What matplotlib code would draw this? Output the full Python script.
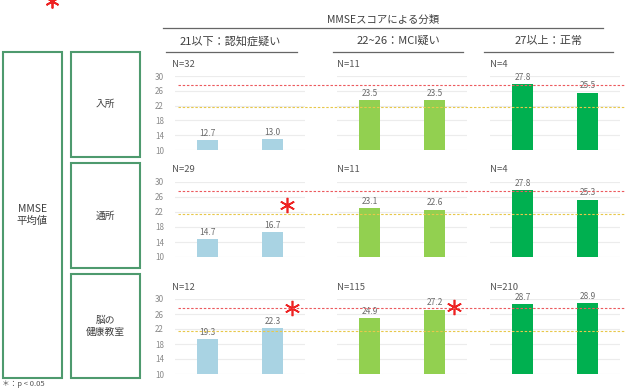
import matplotlib
matplotlib.use("Agg")
import matplotlib.pyplot as plt
from matplotlib.patches import Rectangle
from matplotlib.lines import Line2D

plt.rcParams['font.family'] = ['Noto Sans CJK JP', 'DejaVu Sans']

# ---- data ----
header = "MMSEスコアによる分類"
groups = ["21以下：認知症疑い", "22~26：MCI疑い", "27以上：正常"]
rows = ["入所", "通所", "脳の\n健康教室"]
side_label = "MMSE\n平均値"
n_labels = [["N=32", "N=11", "N=4"],
            ["N=29", "N=11", "N=4"],
            ["N=12", "N=115", "N=210"]]
# values[row][group] = [before, after]
values = [
    [[12.7, 13.0], [23.5, 23.5], [27.8, 25.5]],
    [[14.7, 16.7], [23.1, 22.6], [27.8, 25.3]],
    [[19.3, 22.3], [24.9, 27.2], [28.7, 28.9]],
]
yticks = [10, 14, 18, 22, 26, 30]
ref_red = 27.5
ref_yellow = 21.5
# significance marks: (row, group, x, y)
sig_marks = [(1, 0, 1.22, 23.8), (2, 0, 1.3, 27.6), (2, 1, 1.3, 27.8)]
footnote = "＊：p < 0.05"

colors = ["#a9d3e3", "#92d050", "#00b050"]

W, H = 627, 389
fig = plt.figure(figsize=(W / 100, H / 100), dpi=100)

def fx(px):
    return px / W

def fy(py):
    return 1 - py / H

row_top = [76, 182, 299]
row_bot = [150, 257, 374]
panel_x = [(175, 305), (337, 467), (490, 620)]

for r in range(3):
    for g in range(3):
        x0, x1 = panel_x[g]
        ax = fig.add_axes([fx(x0), fy(row_bot[r]), fx(x1 - x0), (row_bot[r] - row_top[r]) / H])
        vals = values[r][g]
        ax.bar([0, 1], [v - 10 for v in vals], bottom=10, width=0.31, color=colors[g], zorder=2)
        for i, v in enumerate(vals):
            ax.text(i, v + 0.6, f"{v:.1f}", ha='center', va='bottom', fontsize=6, color='#6a6a6a', zorder=4)
        ax.set_xlim(-0.5, 1.5)
        ax.set_ylim(10, 30)
        ax.set_yticks(yticks)
        ax.grid(axis='y', color='#ececec', linewidth=0.8, zorder=0)
        ax.set_xticks([])
        for s in ax.spines.values():
            s.set_visible(False)
        ax.tick_params(axis='y', length=0, labelsize=5.8, labelcolor='#8a8a8a', pad=8)
        if g != 0:
            ax.set_yticklabels([])
        ax.patch.set_alpha(0)
        ax.text(0.0 if g else -0.02, 1.1, n_labels[r][g], transform=ax.transAxes,
                fontsize=6.8, color='#555555', ha='left', va='bottom')
        for (rr, gg, xx, yy) in sig_marks:
            if rr == r and gg == g:
                ax.plot([xx], [yy], marker=(6, 2, 0), markersize=11, color='#ee2222',
                        markeredgewidth=1.2, clip_on=False, zorder=5)
    # reference lines across the row
    ov = fig.add_axes([fx(178), fy(row_bot[r]), fx(625 - 178), (row_bot[r] - row_top[r]) / H])
    ov.set_ylim(10, 30)
    ov.set_xlim(0, 1)
    ov.axhline(ref_red, color='#ec5a5e', linestyle=(0, (2.2, 1.6)), linewidth=0.8, zorder=3)
    ov.axhline(ref_yellow, color='#e8c84a', linestyle=(0, (2.2, 1.6)), linewidth=0.8, zorder=3)
    ov.axis('off')

# header
fig.text(fx(383), fy(20), header, ha='center', va='center', fontsize=7.5, color='#404040')
fig.add_artist(Line2D([fx(163), fx(603)], [fy(28), fy(28)], color='#666666', lw=0.9))
sub_cx = [230, 398, 549]
sub_lines = [(166, 297), (333, 463), (484, 613)]
for g in range(3):
    fig.text(fx(sub_cx[g]), fy(41), groups[g], ha='center', va='center', fontsize=8, color='#404040')
    a, b = sub_lines[g]
    fig.add_artist(Line2D([fx(a), fx(b)], [fy(52), fy(52)], color='#666666', lw=0.9))

# left boxes
box_col = '#4e9a6e'
def box(x0, y0, x1, y1):
    fig.add_artist(Rectangle((fx(x0), fy(y1)), fx(x1 - x0), (y1 - y0) / H,
                             fill=False, edgecolor=box_col, lw=1.5, transform=fig.transFigure))

box(3, 52, 62, 378)
fig.text(fx(32.5), fy(215), side_label, ha='center', va='center', fontsize=7.5, color='#404040',
         linespacing=1.2)
row_boxes = [(52, 157), (163, 268), (274, 378)]
for r in range(3):
    y0, y1 = row_boxes[r]
    box(71, y0, 140, y1)
    fig.text(fx(105.5), fy((y0 + y1) / 2), rows[r], ha='center', va='center', fontsize=7,
             color='#404040', linespacing=1.2)

# top-left asterisk (partially cut)
fig.add_artist(Line2D([fx(52)], [fy(1)], marker=(6, 2, 0), markersize=10, color='#ee2222',
                      markeredgewidth=1.3, transform=fig.transFigure))
# footnote
fig.text(fx(2), fy(388), footnote, ha='left', va='bottom', fontsize=5.5, color='#555555')

fig.savefig("out.png", dpi=100)
